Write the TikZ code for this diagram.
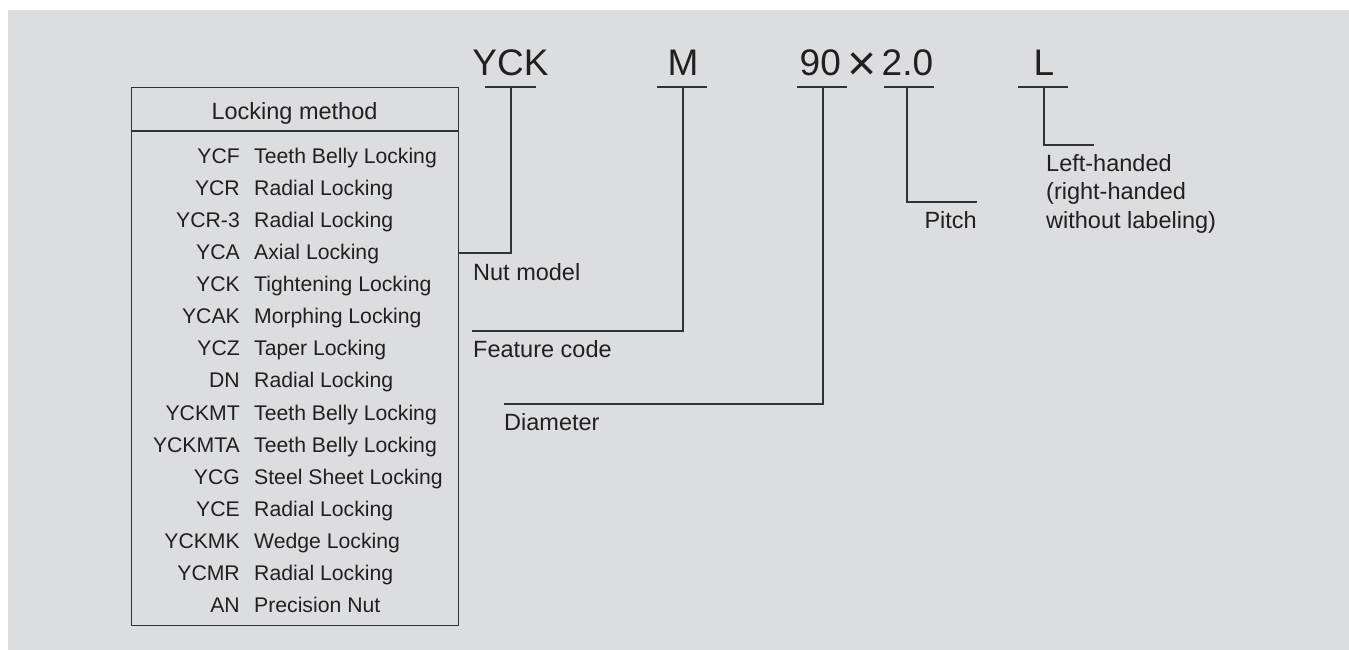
\documentclass[tikz,border=0pt]{standalone}
\usepackage{fontspec}
\setmainfont{Liberation Sans}
\definecolor{bg}{RGB}{220,221,223}
\definecolor{ink}{RGB}{35,31,32}
\definecolor{ln}{RGB}{50,50,50}
\begin{document}
\begin{tikzpicture}[x=1pt,y=-1pt,
  big/.style={inner sep=0pt,text=ink,font=\fontsize{37}{40}\selectfont},
  lbl/.style={inner sep=0pt,text=ink,font=\fontsize{23.5}{28.5}\selectfont},
  item/.style={inner sep=0pt,text=ink,font=\fontsize{21.2}{25}\selectfont},
  leader/.style={draw=ln,line width=1.2pt},
  frame/.style={draw=ln,line width=1.3pt}]
\useasboundingbox (0,0) rectangle (1349,650);
\fill[bg] (8,10) rectangle (1349,650);
% box
\node[frame,minimum width=327pt,minimum height=538pt,anchor=north west,inner sep=0pt] (box) at (131,87) {};
\draw[frame] (131,131) -- (458,131);
\node[lbl,anchor=base] (head) at (294.5,120) {Locking method};
\foreach \c/\d [count=\i from 0] in {YCF/Teeth Belly Locking,YCR/Radial Locking,YCR-3/Radial Locking,YCA/Axial Locking,YCK/Tightening Locking,YCAK/Morphing Locking,YCZ/Taper Locking,DN/Radial Locking,YCKMT/Teeth Belly Locking,YCKMTA/Teeth Belly Locking,YCG/Steel Sheet Locking,YCE/Radial Locking,YCKMK/Wedge Locking,YCMR/Radial Locking,AN/Precision Nut}{
  \node[item,anchor=base east] (c\i) at (240,163.5+32.07*\i) {\c};
  \node[item,anchor=base west] (d\i) at (254,163.5+32.07*\i) {\d};
}
% big labels
\node[big,anchor=base] (yck) at (510.5,76) {YCK};
\node[big,anchor=base] (m) at (683,76) {M};
\node[big,anchor=base west] (dia) at (799.5,76) {90};
\node[inner sep=0pt,text=ink,font=\fontsize{50}{50}\selectfont,anchor=base] (x) at (862.5,81) {×};
\node[big,anchor=base west] (pit) at (881.5,76) {2.0};
\node[big,anchor=base] (lh) at (1044,76) {L};
% underlines
\draw[leader] (485,87) -- (536,87);
\draw[leader] (657,87) -- (707,87);
\draw[leader] (797,87) -- (847,87);
\draw[leader] (884,87) -- (934,87);
\draw[leader] (1018,87) -- (1068,87);
% captions
\node[lbl,anchor=base west] (nut) at (473,280) {Nut model};
\node[lbl,anchor=base west] (feat) at (473,357.7) {Feature code};
\node[lbl,anchor=base west] (diam) at (504,430) {Diameter};
\node[lbl,anchor=base east] (pitch) at (977,228) {Pitch};
\node[lbl,anchor=north west,align=left] (left) at (1046,154) {Left-handed\\(right-handed\\without labeling)};
% leaders
\coordinate (a1) at (511,87);
\coordinate (a2) at (683,87);
\coordinate (a3) at (823,87);
\coordinate (a4) at (907,87);
\coordinate (a5) at (1044,87);
\draw[leader] (a1) |- (box.east |- 0,253);
\draw[leader] (a2) |- (472,331);
\draw[leader] (a3) |- (504,404);
\draw[leader] (a4) |- (977,202);
\draw[leader] (a5) |- (1094,145);
\end{tikzpicture}
\end{document}
